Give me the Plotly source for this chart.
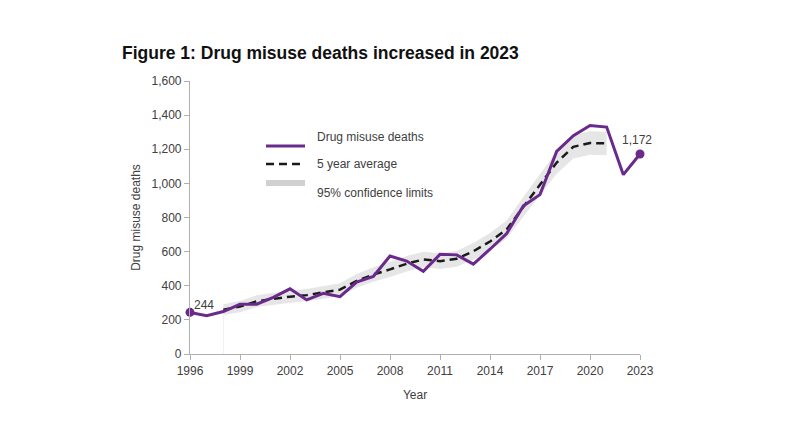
import plotly.graph_objects as go

years = list(range(1996, 2024))
deaths = [244, 224, 249, 291, 292, 332, 382, 317, 356, 336, 421, 455, 574, 545,
          485, 584, 581, 527, 614, 706, 868, 934, 1187, 1280, 1339, 1330, 1051, 1172]

avg_years = list(range(1998, 2022))
avg5 = [260, 278, 309, 323, 336, 345, 362, 377, 428, 466, 496, 529, 554, 544,
        558, 602, 659, 730, 862, 995, 1122, 1214, 1237, 1234]
ci_lower = [228, 245, 275, 288, 300, 309, 325, 339, 388, 424, 452, 484, 508, 498,
            512, 554, 609, 677, 804, 933, 1056, 1146, 1168, 1165]
ci_upper = [292, 311, 344, 358, 372, 381, 399, 415, 469, 508, 540, 574, 600, 590,
            604, 650, 709, 783, 920, 1057, 1188, 1282, 1306, 1303]

x_ticks = [1996, 1999, 2002, 2005, 2008, 2011, 2014, 2017, 2020, 2023]
y_ticks = [0, 200, 400, 600, 800, 1000, 1200, 1400, 1600]

PURPLE = "#6a2a8c"
BAND = "#e6e6e6"
TXT = "#404040"
FONT = "Liberation Sans, Arial, sans-serif"

# page body has an 8px margin; compensate so the plot area lands at 190..640 x 81..354
OFF = 8

fig = go.Figure()

fig.add_trace(go.Scatter(x=[avg_years[0], avg_years[0]], y=[0, ci_lower[0]], mode="lines",
                         line=dict(color="#efefef", width=1), hoverinfo="skip", showlegend=False))

fig.add_trace(go.Scatter(x=avg_years, y=ci_lower, mode="lines", line=dict(width=0, color=BAND),
                         hoverinfo="skip", showlegend=False))
fig.add_trace(go.Scatter(x=avg_years, y=ci_upper, mode="lines", line=dict(width=0, color=BAND),
                         fill="tonexty", fillcolor=BAND, hoverinfo="skip", showlegend=False))

fig.add_trace(go.Scatter(x=avg_years, y=avg5, mode="lines",
                         line=dict(color="#1a1a1a", width=2.5, dash="8px,5px"), showlegend=False))

fig.add_trace(go.Scatter(x=years, y=deaths, mode="lines", cliponaxis=False,
                         line=dict(color=PURPLE, width=3), showlegend=False))

fig.add_trace(go.Scatter(x=[years[0], years[-1]], y=[deaths[0], deaths[-1]], mode="markers",
                         cliponaxis=False, marker=dict(color=PURPLE, size=9), showlegend=False))

fig.add_annotation(x=years[0], y=deaths[0], text=f"{deaths[0]:,}", showarrow=False,
                   xanchor="left", yanchor="bottom", xshift=2, yshift=-2,
                   font=dict(size=12, color=TXT, family=FONT))
fig.add_annotation(x=years[-1], y=deaths[-1], text=f"{deaths[-1]:,}", showarrow=False,
                   xanchor="center", yanchor="bottom", xshift=-3, yshift=5,
                   font=dict(size=12, color=TXT, family=FONT))

def px(x):
    return (x - 190) / 450

def py(y):
    return (354 - y) / 273

fig.add_shape(type="line", xref="paper", yref="paper", x0=px(266), x1=px(305), y0=py(146), y1=py(146),
              line=dict(color=PURPLE, width=3))
fig.add_shape(type="line", xref="paper", yref="paper", x0=px(266), x1=px(305), y0=py(164), y1=py(164),
              line=dict(color="#1a1a1a", width=2.5, dash="8px,5px"))
fig.add_shape(type="line", xref="paper", yref="paper", x0=px(266), x1=px(305), y0=py(183), y1=py(183),
              line=dict(color="#d0d0d0", width=6))
for label, yy in [("Drug misuse deaths", 137), ("5 year average", 164), ("95% confidence limits", 193)]:
    fig.add_annotation(xref="paper", yref="paper", x=px(315), y=py(yy), text=label, showarrow=False,
                       xanchor="left", yanchor="middle", font=dict(size=12, color=TXT, family=FONT))

W, H = 800, 445
fig.update_layout(
    width=W, height=H,
    margin=dict(l=190 - OFF, r=W - (640 - OFF), t=81 - OFF, b=H - (354 - OFF)),
    paper_bgcolor="white", plot_bgcolor="white",
    font=dict(family=FONT, size=12, color=TXT),
    title=dict(text="<b>Figure 1: Drug misuse deaths increased in 2023</b>", x=(122 - OFF) / W, xanchor="left",
               y=1 - (53 - OFF) / H, yanchor="middle", font=dict(size=17.5, color="#111111", family=FONT)),
    xaxis=dict(range=[1996, 2023], tickvals=x_ticks, showgrid=False, zeroline=False,
               showline=True, linecolor="#b0b0b0", linewidth=1.2, ticks="outside", ticklen=5,
               tickcolor="#b0b0b0", tickfont=dict(size=12, color=TXT),
               title=dict(text="Year", font=dict(size=12, color=TXT), standoff=14)),
    yaxis=dict(range=[0, 1600], tickvals=y_ticks, tickformat=",", showgrid=False, zeroline=False,
               showline=True, linecolor="#b0b0b0", linewidth=1.2, ticks="outside", ticklen=5,
               tickcolor="#b0b0b0", tickfont=dict(size=12, color=TXT),
               title=dict(text="Drug misuse deaths", font=dict(size=12, color=TXT), standoff=8)),
)

fig.write_html("out.html")
